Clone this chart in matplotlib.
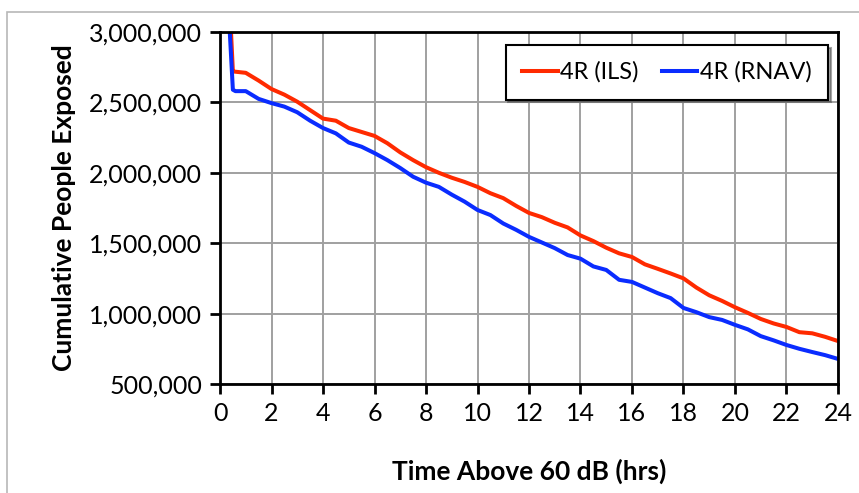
import numpy as np
import matplotlib.pyplot as plt
from matplotlib.patches import Rectangle
from matplotlib.ticker import FuncFormatter

# hours above 60 dB and cumulative people exposed
hours = [0.35, 0.5, 0.6, 1.0, 1.5, 2, 2.5, 3, 3.5, 4, 4.5, 5, 5.5, 6, 6.5, 7, 7.5, 8,
         8.5, 9, 9.5, 10, 10.5, 11, 11.5, 12, 12.5, 13, 13.5, 14, 14.5, 15, 15.5, 16,
         16.5, 17, 17.5, 18, 18.5, 19, 19.5, 20, 20.5, 21, 21.5, 22, 22.5, 23, 23.5, 24]
ils = [3300, 2720, 2718, 2710, 2655, 2595, 2555, 2505, 2445, 2385, 2370, 2318, 2290, 2262,
       2210, 2145, 2090, 2040, 2000, 1965, 1935, 1900, 1855, 1820, 1765, 1715, 1685, 1645,
       1612, 1555, 1515, 1468, 1428, 1402, 1350, 1318, 1285, 1250, 1185, 1130, 1090, 1045,
       1005, 962, 930, 905, 868, 860, 835, 805]
rnav = [3100, 2590, 2580, 2580, 2525, 2495, 2470, 2430, 2370, 2318, 2280, 2215, 2185, 2140,
        2090, 2034, 1972, 1930, 1900, 1845, 1795, 1736, 1700, 1640, 1595, 1545, 1505, 1465,
        1416, 1390, 1335, 1310, 1240, 1225, 1185, 1145, 1110, 1040, 1010, 975, 955, 920,
        888, 840, 810, 777, 750, 727, 705, 678]
ils = np.array(ils) * 1000
rnav = np.array(rnav) * 1000

plt.rcParams['font.family'] = ['Lato', 'DejaVu Sans']

fig = plt.figure(figsize=(8.59, 4.93), dpi=100)
ax = fig.add_axes([220/859, 1-384/493, 618/859, 352/493])

# light frame around the chart (partially cropped)
fig.patches.append(Rectangle((7/859, -0.1), 1.2, 1.1 - 12/493, transform=fig.transFigure,
                             fill=False, edgecolor='#b8b8b8', linewidth=1.2))

ax.plot(hours, ils, color='#ff2a00', linewidth=2.9, label='4R (ILS)', solid_joinstyle='round')
ax.plot(hours, rnav, color='#0a2cff', linewidth=2.9, label='4R (RNAV)', solid_joinstyle='round')

ax.set_xlim(0, 24)
ax.set_ylim(500000, 3000000)
ax.set_xticks(np.arange(0, 25, 2))
ax.set_yticks(np.arange(500000, 3000001, 500000))
ax.yaxis.set_major_formatter(FuncFormatter(lambda v, p: f'{int(v):,}'))

ax.grid(color='#a0a0a0', linewidth=1.4)
ax.set_axisbelow(True)
for s in ax.spines.values():
    s.set_linewidth(2)
    s.set_color('black')
ax.tick_params(direction='out', length=7, width=2, labelsize=18, pad=6)

ax.set_xlabel('Time Above 60 dB (hrs)', fontsize=19, fontweight='bold', labelpad=24)
ax.set_ylabel('Cumulative People Exposed', fontsize=19, fontweight='bold', labelpad=9)

leg = ax.legend(loc='upper right', bbox_to_anchor=(0.984, 0.963), borderaxespad=0,
                ncol=2, fontsize=17, frameon=True, fancybox=False, shadow=True,
                handlelength=1.5, handletextpad=0.1, columnspacing=1.0,
                borderpad=0.7)
leg.get_frame().set_edgecolor('black')
leg.get_frame().set_linewidth(1.5)

fig.savefig('out.png', dpi=100)
